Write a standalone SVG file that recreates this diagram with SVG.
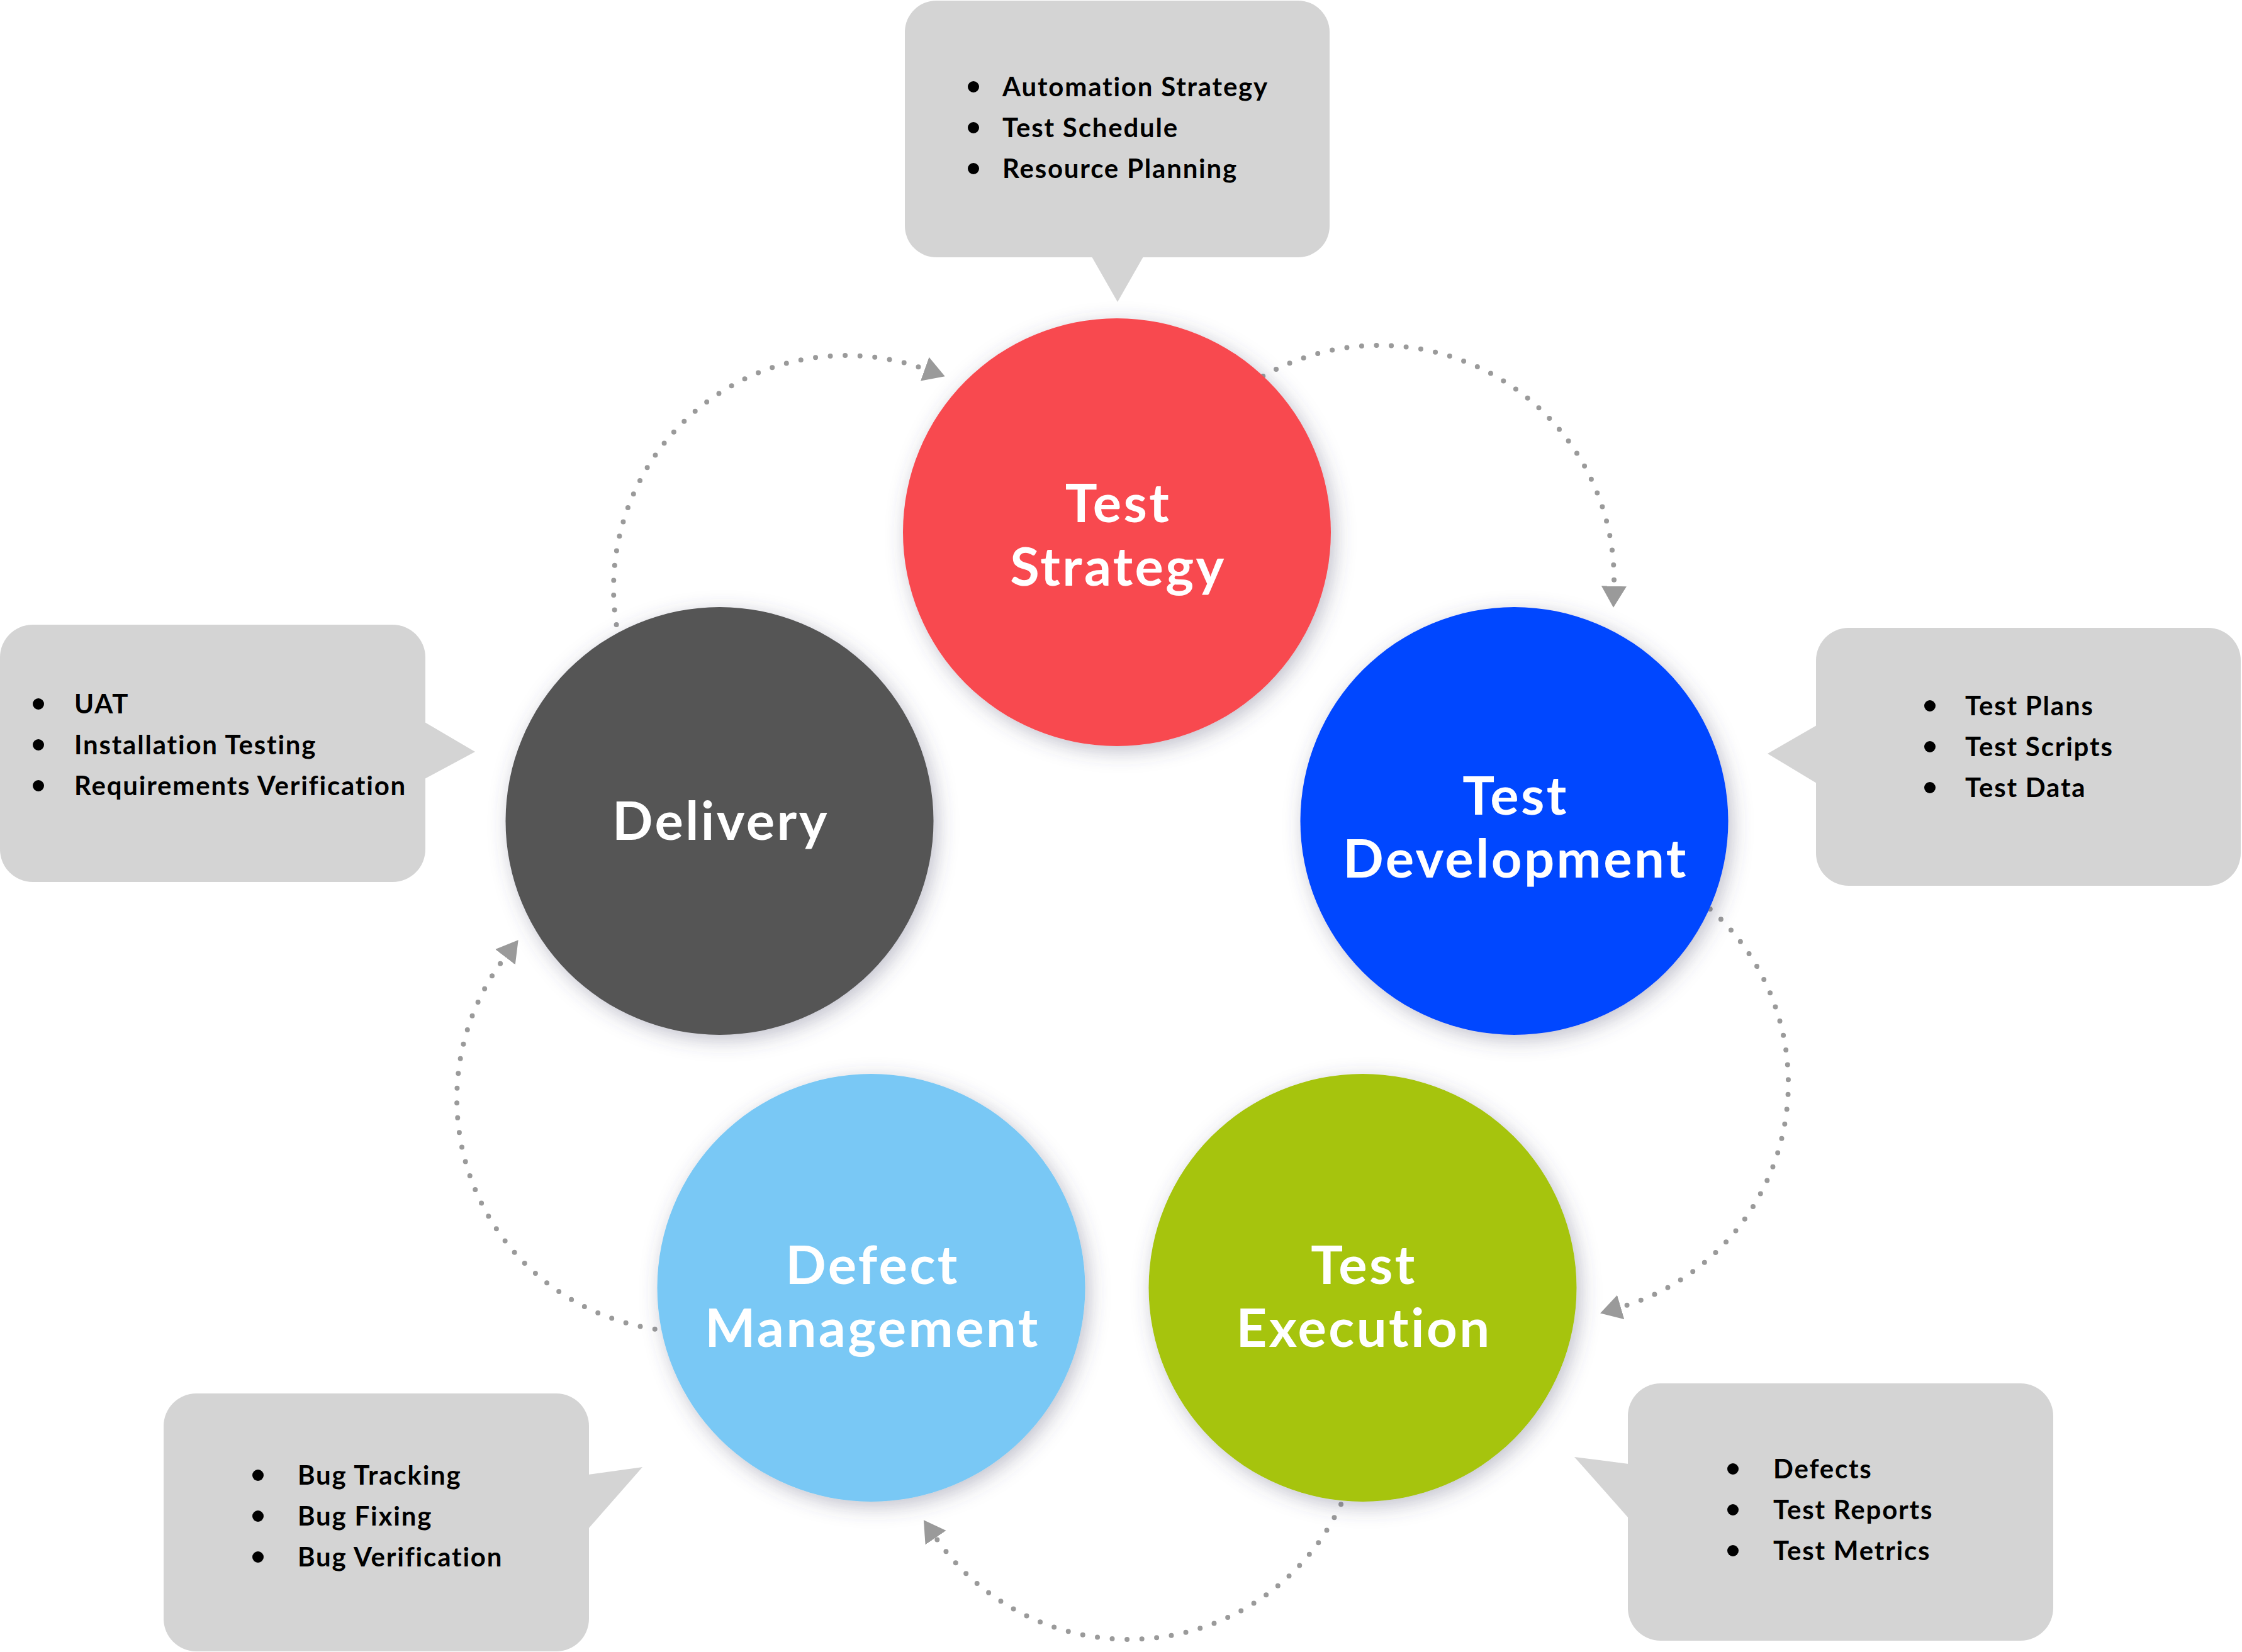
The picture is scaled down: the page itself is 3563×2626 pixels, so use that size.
<svg xmlns="http://www.w3.org/2000/svg" width="3563" height="2626" viewBox="0 0 3563 2626">
<style>
.bg{fill:#ffffff}
.callout{fill:#d4d4d4}
.item{font-family:Lato,"Open Sans","Liberation Sans",sans-serif;font-weight:700;font-size:42px;letter-spacing:1.8px;fill:#000000}
.dot{fill:#000000}
.label{font-family:Lato,"Open Sans","Liberation Sans",sans-serif;font-weight:700;font-size:85px;letter-spacing:3.4px;fill:#ffffff;text-anchor:middle}
.flow{fill:none;stroke:#9a9a9a;stroke-width:8;stroke-linecap:round;stroke-dasharray:0 23.6;marker-end:url(#ah)}
</style>
<defs>
<marker id="ah" markerUnits="userSpaceOnUse" markerWidth="36" markerHeight="42" viewBox="0 -21 36 42" refX="0" refY="0" orient="auto">
<path d="M0,-20 L34,0 L0,20 Z" fill="#9a9a9a"/>
</marker>
<filter id="sh" x="-25%" y="-25%" width="150%" height="150%">
<feDropShadow dx="6" dy="8" stdDeviation="16" flood-color="#4a4a6a" flood-opacity="0.35"/>
</filter>
</defs>
<rect class="bg" x="0" y="0" width="3563" height="2626"/>

<g id="connectors">
<path class="flow" d="M979.6,992.9 A370,370 0 0 1 1469.7,586.7"/>
<path class="flow" d="M2007.2,598 A373,373 0 0 1 2564.9,931.8"/>
<path class="flow" d="M2717.8,1445 A371,371 0 0 1 2575.7,2077.9"/>
<path class="flow" d="M2131.1,2391.2 A372,372 0 0 1 1487.1,2444.2"/>
<path class="flow" d="M1040.7,2112.8 A370,370 0 0 1 802.9,1521.2"/>
</g>

<g id="node-test-strategy">
<circle cx="1775" cy="846" r="340" fill="#f84a50" filter="url(#sh)"/>
<text class="label" x="1777" y="830">Test</text>
<text class="label" x="1777" y="931">Strategy</text>
</g>

<g id="node-test-development">
<circle cx="2406.5" cy="1305" r="340" fill="#0547ff" filter="url(#sh)"/>
<text class="label" x="2408.5" y="1295">Test</text>
<text class="label" x="2408.5" y="1395">Development</text>
</g>

<g id="node-test-execution">
<circle cx="2165.5" cy="2047" r="340" fill="#a6c407" filter="url(#sh)"/>
<text class="label" x="2167.5" y="2041">Test</text>
<text class="label" x="2167.5" y="2141">Execution</text>
</g>

<g id="node-defect-management">
<circle cx="1384.5" cy="2047" r="340" fill="#79c8f5" filter="url(#sh)"/>
<text class="label" x="1386.5" y="2041">Defect</text>
<text class="label" x="1386.5" y="2141">Management</text>
</g>

<g id="node-delivery">
<circle cx="1143.5" cy="1305" r="340" fill="#545454" filter="url(#sh)"/>
<text class="label" x="1145.5" y="1335">Delivery</text>
</g>

<g id="callout-test-strategy">
<rect class="callout" x="1438" y="1" width="675" height="408" rx="50" ry="50"/>
<polygon class="callout" points="1735,408 1776,480 1817,408"/>
<circle class="dot" cx="1547" cy="138" r="9"/>
<circle class="dot" cx="1547" cy="203" r="9"/>
<circle class="dot" cx="1547" cy="268" r="9"/>
<text class="item" x="1593" y="153">Automation Strategy</text>
<text class="item" x="1593" y="218">Test Schedule</text>
<text class="item" x="1593" y="283">Resource Planning</text>
</g>

<g id="callout-test-development">
<rect class="callout" x="2886" y="998" width="675" height="410" rx="52" ry="52"/>
<polygon class="callout" points="2887,1153 2809,1198 2887,1245"/>
<circle class="dot" cx="3067" cy="1122" r="9"/>
<circle class="dot" cx="3067" cy="1187" r="9"/>
<circle class="dot" cx="3067" cy="1252" r="9"/>
<text class="item" x="3123" y="1137">Test Plans</text>
<text class="item" x="3123" y="1202">Test Scripts</text>
<text class="item" x="3123" y="1267">Test Data</text>
</g>

<g id="callout-delivery">
<rect class="callout" x="0" y="993" width="676" height="409" rx="52" ry="52"/>
<polygon class="callout" points="675,1148 755,1195 675,1238"/>
<circle class="dot" cx="61" cy="1119" r="9"/>
<circle class="dot" cx="61" cy="1184" r="9"/>
<circle class="dot" cx="61" cy="1249" r="9"/>
<text class="item" x="118" y="1134">UAT</text>
<text class="item" x="118" y="1199">Installation Testing</text>
<text class="item" x="118" y="1264">Requirements Verification</text>
</g>

<g id="callout-test-execution">
<rect class="callout" x="2587" y="2199" width="676" height="409" rx="52" ry="52"/>
<polygon class="callout" points="2588,2327 2502,2316 2588,2413"/>
<circle class="dot" cx="2754" cy="2335" r="9"/>
<circle class="dot" cx="2754" cy="2400" r="9"/>
<circle class="dot" cx="2754" cy="2465" r="9"/>
<text class="item" x="2818" y="2350">Defects</text>
<text class="item" x="2818" y="2415">Test Reports</text>
<text class="item" x="2818" y="2480">Test Metrics</text>
</g>

<g id="callout-defect-management">
<rect class="callout" x="260" y="2215" width="676" height="410" rx="52" ry="52"/>
<polygon class="callout" points="935,2344 1021,2332 935,2430"/>
<circle class="dot" cx="410" cy="2345" r="9"/>
<circle class="dot" cx="410" cy="2410" r="9"/>
<circle class="dot" cx="410" cy="2475" r="9"/>
<text class="item" x="473" y="2360">Bug Tracking</text>
<text class="item" x="473" y="2425">Bug Fixing</text>
<text class="item" x="473" y="2490">Bug Verification</text>
</g>
</svg>
